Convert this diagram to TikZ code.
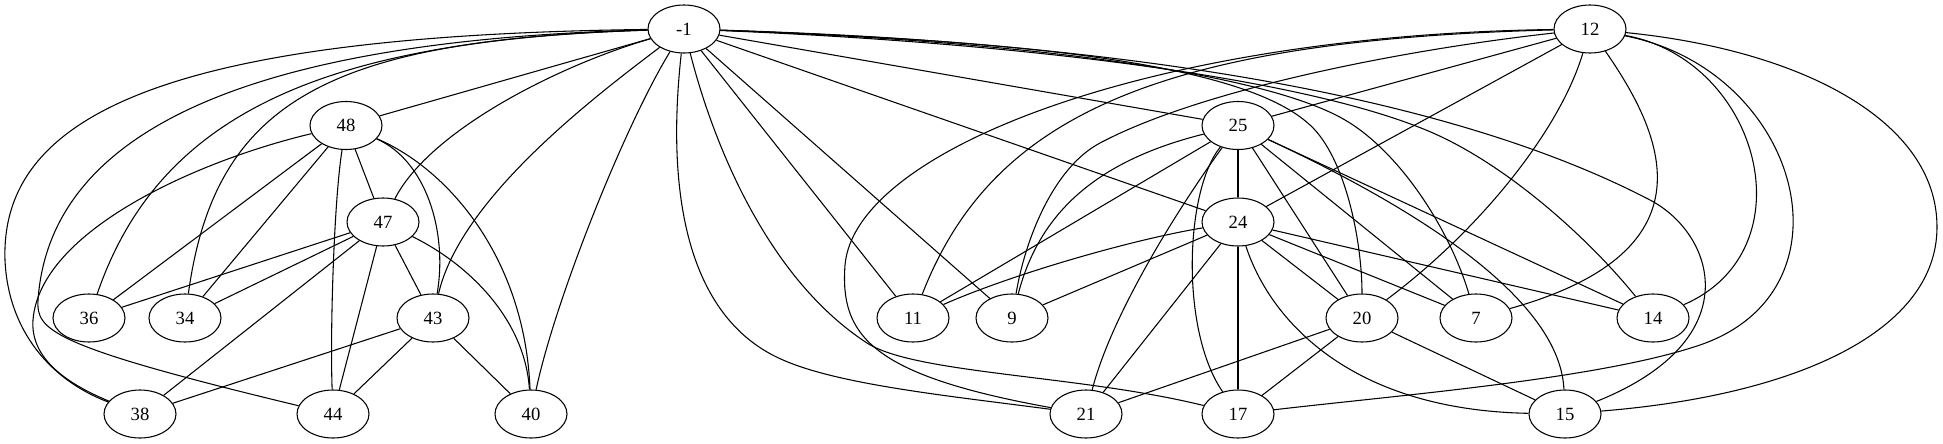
\documentclass[tikz,border=0pt]{standalone}
\usepackage{fontspec}
\setmainfont{Liberation Serif}
\usetikzlibrary{shapes.geometric}
\begin{document}
\begin{tikzpicture}[x=0.75pt,y=-0.75pt,
  vtx/.style={ellipse,draw,line width=0.8pt,minimum width=54pt,minimum height=36pt,inner sep=0pt,font=\fontsize{14}{16}\selectfont},
  edge/.style={draw,line width=0.8pt}]
\useasboundingbox (0,0) rectangle (1943,443);
% nodes
\node[vtx] (m1)  at (684,29)    {-1};
\node[vtx] (n12) at (1590,29)   {12};
\node[vtx] (n48) at (346,125.5) {48};
\node[vtx] (n25) at (1238,125.5){25};
\node[vtx] (n47) at (383,222)   {47};
\node[vtx] (n24) at (1238,222)  {24};
\node[vtx] (n36) at (89,318)    {36};
\node[vtx] (n34) at (185,318)   {34};
\node[vtx] (n43) at (433,318)   {43};
\node[vtx] (n11) at (913,318)   {11};
\node[vtx] (n9)  at (1012,318)  {9};
\node[vtx] (n20) at (1362,318)  {20};
\node[vtx] (n7)  at (1476,318)  {7};
\node[vtx] (n14) at (1653,318)  {14};
\node[vtx] (n38) at (140,414)   {38};
\node[vtx] (n44) at (333,414)   {44};
\node[vtx] (n40) at (531,414)   {40};
\node[vtx] (n21) at (1086,414)  {21};
\node[vtx] (n17) at (1238,414)  {17};
\node[vtx] (n15) at (1565,414)  {15};
% -1 left side
\draw[edge] (m1) -- (n48);
\draw[edge] (m1) .. controls (560,65) and (430,130) .. (n47);
\draw[edge] (m1) .. controls (590,100) and (460,200) .. (n43);
\draw[edge] (m1) .. controls (625,125) and (555,300) .. (n40);
\draw[edge] (m1) .. controls (180,35) and (0,110) .. (5,260) .. controls (8,330) and (50,380) .. (n38);
\draw[edge] (m1) .. controls (250,40) and (50,130) .. (38,300) .. controls (36,330) and (50,346) .. (n44);
\draw[edge] (m1) .. controls (330,40) and (160,110) .. (n36);
\draw[edge] (m1) .. controls (330,40) and (215,100) .. (n34);
% 48
\draw[edge] (n48) .. controls (200,160) and (40,230) .. (33,320) .. controls (30,360) and (70,385) .. (n38);
\draw[edge] (n48) -- (n36);
\draw[edge] (n48) -- (n34);
\draw[edge] (n48) .. controls (334,200) and (330,330) .. (n44);
\draw[edge] (n48) -- (n47);
\draw[edge] (n48) .. controls (425,160) and (448,230) .. (n43);
\draw[edge] (n48) .. controls (450,170) and (525,260) .. (n40);
% 47
\draw[edge] (n47) -- (n36);
\draw[edge] (n47) -- (n34);
\draw[edge] (n47) -- (n38);
\draw[edge] (n47) -- (n44);
\draw[edge] (n47) -- (n43);
\draw[edge] (n47) .. controls (470,265) and (525,320) .. (n40);
% 43
\draw[edge] (n43) -- (n38);
\draw[edge] (n43) -- (n44);
\draw[edge] (n43) -- (n40);
% -1 right side
\draw[edge] (m1) .. controls (665,200) and (690,320) .. (783,360) .. controls (840,385) and (950,396) .. (n21);
\draw[edge] (m1) .. controls (715,150) and (770,280) .. (867,343) .. controls (915,374) and (1080,375) .. (n17);
\draw[edge] (m1) -- (n11);
\draw[edge] (m1) -- (n9);
\draw[edge] (m1) -- (n24);
\draw[edge] (m1) -- (n25);
\draw[edge] (m1) .. controls (1000,40) and (1240,60) .. (1310,125) .. controls (1345,157) and (1362,240) .. (n20);
\draw[edge] (m1) .. controls (1000,40) and (1260,70) .. (1345,120) .. controls (1400,152) and (1450,230) .. (n7);
\draw[edge] (m1) .. controls (1000,42) and (1300,75) .. (1433,133) .. controls (1510,167) and (1590,240) .. (n14);
\draw[edge] (m1) .. controls (1050,40) and (1420,80) .. (1650,200) .. controls (1715,234) and (1750,340) .. (n15);
% 12
\draw[edge] (n12) .. controls (1150,35) and (855,150) .. (845,265) .. controls (840,335) and (870,375) .. (n21);
\draw[edge] (n12) .. controls (1150,40) and (990,120) .. (n11);
\draw[edge] (n12) .. controls (1400,50) and (1200,90) .. (1100,143) .. controls (1053,168) and (1025,240) .. (n9);
\draw[edge] (n12) -- (n25);
\draw[edge] (n12) -- (n24);
\draw[edge] (n12) .. controls (1560,130) and (1480,230) .. (n20);
\draw[edge] (n12) .. controls (1660,130) and (1720,250) .. (n7);
\draw[edge] (n12) .. controls (1760,60) and (1810,250) .. (n14);
\draw[edge] (n12) .. controls (1800,70) and (1860,290) .. (1700,345) .. controls (1600,379) and (1400,395) .. (n17);
\draw[edge] (n12) .. controls (1800,50) and (1937,120) .. (1937,227) .. controls (1937,330) and (1800,395) .. (n15);
% 25
\draw[edge] (n25) -- (n24);
\draw[edge] (n25) -- (n11);
\draw[edge] (n25) .. controls (1100,160) and (1040,210) .. (n9);
\draw[edge] (n25) .. controls (1170,220) and (1110,320) .. (n21);
\draw[edge] (n25) .. controls (1185,190) and (1180,330) .. (n17);
\draw[edge] (n25) -- (n20);
\draw[edge] (n25) -- (n7);
\draw[edge] (n25) -- (n14);
\draw[edge] (n25) .. controls (1420,210) and (1560,300) .. (n15);
% 24
\draw[edge] (n24) .. controls (1130,240) and (1010,275) .. (n11);
\draw[edge] (n24) -- (n9);
\draw[edge] (n24) -- (n21);
\draw[edge] (n24) -- (n17);
\draw[edge] (n24) -- (n20);
\draw[edge] (n24) -- (n7);
\draw[edge] (n24) -- (n14);
\draw[edge] (n24) .. controls (1270,320) and (1350,410) .. (n15);
% 20
\draw[edge] (n20) -- (n21);
\draw[edge] (n20) -- (n17);
\draw[edge] (n20) -- (n15);
\end{tikzpicture}
\end{document}
